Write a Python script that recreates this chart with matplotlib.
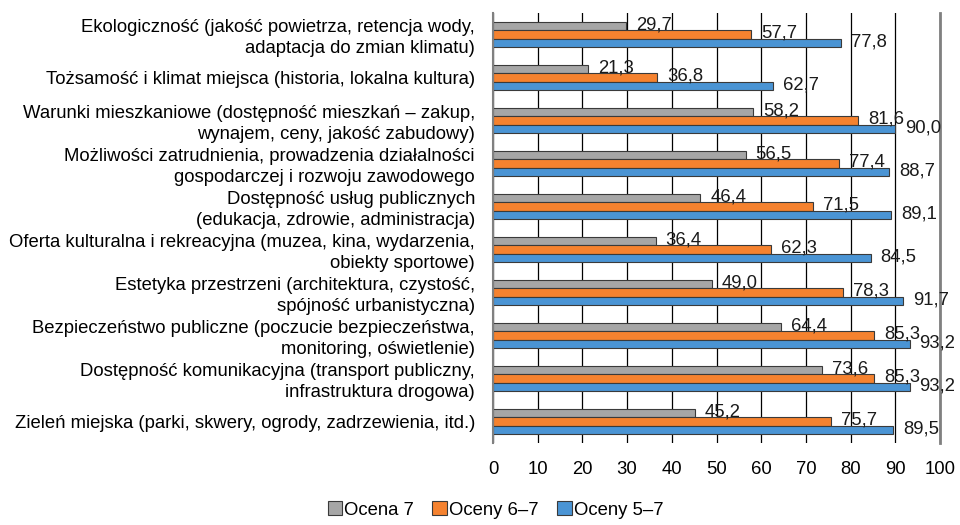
import matplotlib
matplotlib.use("Agg")
import matplotlib.pyplot as plt
import numpy as np
from matplotlib.patches import Patch

plt.rcParams['font.family'] = ['Liberation Sans', 'DejaVu Sans']

categories = [
    "Ekologiczność (jakość powietrza, retencja wody,\nadaptacja do zmian klimatu)",
    "Tożsamość i klimat miejsca (historia, lokalna kultura)",
    "Warunki mieszkaniowe (dostępność mieszkań – zakup,\nwynajem, ceny, jakość zabudowy)",
    "Możliwości zatrudnienia, prowadzenia działalności\ngospodarczej i rozwoju zawodowego",
    "Dostępność usług publicznych\n(edukacja, zdrowie, administracja)",
    "Oferta kulturalna i rekreacyjna (muzea, kina, wydarzenia,\nobiekty sportowe)",
    "Estetyka przestrzeni (architektura, czystość,\nspójność urbanistyczna)",
    "Bezpieczeństwo publiczne (poczucie bezpieczeństwa,\nmonitoring, oświetlenie)",
    "Dostępność komunikacyjna (transport publiczny,\ninfrastruktura drogowa)",
    "Zieleń miejska (parki, skwery, ogrody, zadrzewienia, itd.)",
]
series_names = ["Ocena 7", "Oceny 6–7", "Oceny 5–7"]
ocena_7 = [29.7, 21.3, 58.2, 56.5, 46.4, 36.4, 49.0, 64.4, 73.6, 45.2]
oceny_6_7 = [57.7, 36.8, 81.6, 77.4, 71.5, 62.3, 78.3, 85.3, 85.3, 75.7]
oceny_5_7 = [77.8, 62.7, 90.0, 88.7, 89.1, 84.5, 91.7, 93.2, 93.2, 89.5]
xticks = [0, 10, 20, 30, 40, 50, 60, 70, 80, 90, 100]

colors = ["#A6A6A6", "#F5822F", "#4A94D4"]
edge = "#3a3a3a"
fs = 13.3

fig = plt.figure(figsize=(9.6, 5.25), dpi=100)
ax = fig.add_axes([493/960, 1-443/525, (940-493)/960, (443-13)/525])

y = np.arange(len(categories))
h = 0.2
for k, (vals, col) in enumerate(zip([ocena_7, oceny_6_7, oceny_5_7], colors)):
    pos = y + (k - 1) * h
    ax.barh(pos, vals, height=h, color=col, edgecolor=edge, linewidth=0.8, zorder=2)
    for p, v in zip(pos, vals):
        ax.annotate(f"{v:.1f}".replace('.', ','), xy=(v, p), xytext=(10, 1),
                    textcoords='offset pixels', ha='left', va='center',
                    fontsize=fs, color='#1a1a1a', zorder=3)

ax.set_xlim(0, 100)
ax.set_ylim(len(categories) - 0.5, -0.5)
ax.set_xticks(xticks)
ax.set_xticklabels([str(t) for t in xticks], fontsize=fs)
ax.set_yticks(y)
ax.set_yticklabels(categories, fontsize=fs, ha='right', linespacing=1.25)
ax.tick_params(axis='y', length=0, pad=13)
ax.tick_params(axis='x', length=0, pad=13)

ax.grid(axis='x', color='black', linewidth=0.9)
ax.set_axisbelow(True)
for s in ['top', 'bottom']:
    ax.spines[s].set_visible(False)
ax.spines['left'].set_color('#808080')
ax.spines['left'].set_linewidth(1.5)
ax.spines['right'].set_color('#808080')
ax.spines['right'].set_linewidth(2)

handles = [Patch(facecolor=c, edgecolor=edge, linewidth=0.8) for c in colors]
fig.legend(handles, series_names, loc='center', bbox_to_anchor=(0.516, 1 - 510/525),
           ncol=3, frameon=False, fontsize=fs, handlelength=0.8, handleheight=0.8,
           handletextpad=0.1, columnspacing=1.0)

fig.savefig("out.png", dpi=100)
